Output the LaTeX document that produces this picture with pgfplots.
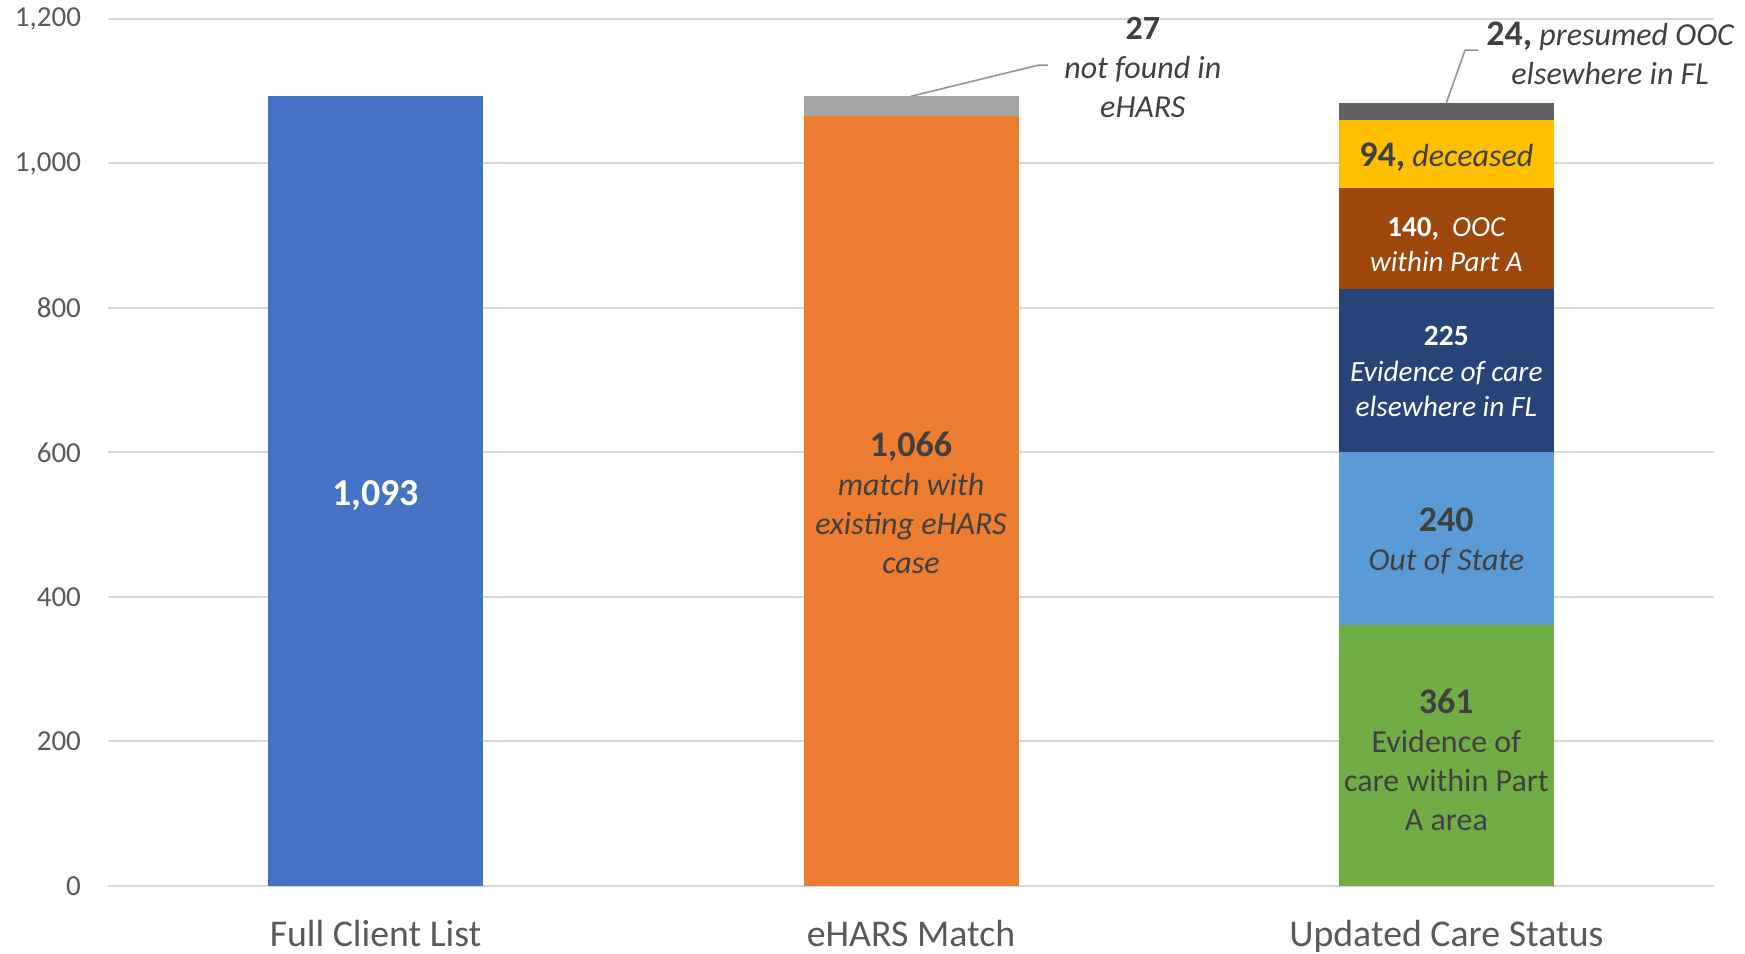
\documentclass[border=0pt]{standalone}
\usepackage{pgfplots}
\pgfplotsset{compat=1.18}
\usepackage{fontspec}
\setmainfont{Carlito}
\definecolor{cBlue}{HTML}{4472C4}
\definecolor{cOrange}{HTML}{ED7D31}
\definecolor{cGray}{HTML}{A5A5A5}
\definecolor{cGreen}{HTML}{70AD47}
\definecolor{cLBlue}{HTML}{5B9BD5}
\definecolor{cDBlue}{HTML}{264478}
\definecolor{cBrown}{HTML}{9E480E}
\definecolor{cGold}{HTML}{FFC000}
\definecolor{cDGray}{HTML}{636363}
\definecolor{txt}{HTML}{404040}
\definecolor{tick}{HTML}{595959}
\definecolor{grid}{HTML}{D9D9D9}
\begin{document}
\begin{tikzpicture}
\begin{axis}[
  at={(0,0)}, anchor=south west,
  scale only axis,
  width=803pt, height=433.5pt,
  ybar stacked, bar width=107.5pt,
  xmin=-0.5, xmax=2.5,
  ymin=0, ymax=1200,
  ytick={0,200,...,1200},
  xtick={0,1,2},
  xticklabels={Full Client List, eHARS Match, Updated Care Status},
  xticklabel style={font=\fontsize{18.9}{21}\selectfont, text=tick, yshift=-13.5pt},
  yticklabel style={font=\fontsize{14.5}{16}\selectfont, text=tick, xshift=-10pt},
  /pgf/number format/assume math mode=true,
  /pgf/number format/1000 sep={,},
  ymajorgrids, grid style={draw=grid, line width=1pt},
  axis line style={draw=none},
  major tick length=0pt,
  clip=false,
]
\addplot[fill=cBlue, draw=none] coordinates {(0,1093) (1,0) (2,0)};
\addplot[fill=cOrange, draw=none] coordinates {(0,0) (1,1066) (2,0)};
\addplot[fill=cGray, draw=none] coordinates {(0,0) (1,27) (2,0)};
\addplot[fill=cGreen, draw=none] coordinates {(0,0) (1,0) (2,361)};
\addplot[fill=cLBlue, draw=none] coordinates {(0,0) (1,0) (2,240)};
\addplot[fill=cDBlue, draw=none] coordinates {(0,0) (1,0) (2,225)};
\addplot[fill=cBrown, draw=none] coordinates {(0,0) (1,0) (2,140)};
\addplot[fill=cGold, draw=none] coordinates {(0,0) (1,0) (2,94)};
\addplot[fill=cDGray, draw=none] coordinates {(0,0) (1,0) (2,24)};

\coordinate (a1) at (axis cs:1,1093);
\coordinate (a2) at (axis cs:1.237,1136);
\coordinate (a3) at (axis cs:1.256,1136);
\coordinate (b1) at (axis cs:2,1084);
\coordinate (b2) at (axis cs:2.035,1157);
\coordinate (b3) at (axis cs:2.06,1157);
\coordinate (L1093) at (axis cs:0,541);
\coordinate (L1066) at (axis cs:1,530);
\coordinate (L27) at (axis cs:1.433,1133);
\coordinate (L24) at (axis cs:2.306,1153);
\coordinate (L94) at (axis cs:2,1009);
\coordinate (L140) at (axis cs:2,888);
\coordinate (L225) at (axis cs:2,712);
\coordinate (L240) at (axis cs:2,477);
\coordinate (L361) at (axis cs:2,175);
\end{axis}
\draw[cGray!90!black, line width=0.8pt] (a1) -- (a2) -- (a3);
\draw[cGray!90!black, line width=0.8pt] (b1) -- (b2) -- (b3);
\node[text=white, font=\bfseries\fontsize{19}{22}\selectfont] at (L1093) {1,093};
\node[text=txt, align=center, font=\fontsize{16}{19.5}\selectfont] at (L1066)
  {{\bfseries\fontsize{18}{19.5}\selectfont 1,066}\\\itshape match with\\\itshape existing eHARS\\\itshape case};
\node[text=txt, align=center, font=\fontsize{16}{19.5}\selectfont] at (L27)
  {{\bfseries\fontsize{17}{19.5}\selectfont 27}\\\itshape not found in\\\itshape eHARS};
\node[text=txt, align=center, font=\fontsize{16}{19.5}\selectfont] at (L24)
  {{\bfseries\fontsize{18}{19.5}\selectfont 24,} \itshape presumed OOC\\\itshape elsewhere in FL};
\node[text=txt, font=\fontsize{16}{19.5}\selectfont] at (L94)
  {{\bfseries\fontsize{18}{19.5}\selectfont 94,} \itshape deceased};
\node[text=white, align=center, font=\fontsize{14.5}{17.5}\selectfont] at (L140)
  {{\bfseries 140,} \itshape\ OOC\\\itshape within Part A};
\node[text=white, align=center, font=\fontsize{14.7}{17.8}\selectfont] at (L225)
  {{\bfseries 225}\\\itshape Evidence of care\\\itshape elsewhere in FL};
\node[text=txt, align=center, font=\fontsize{16}{19.5}\selectfont] at (L240)
  {{\bfseries\fontsize{18}{19.5}\selectfont 240}\\\itshape Out of State};
\node[text=txt, align=center, font=\fontsize{16}{19.5}\selectfont] at (L361)
  {{\bfseries\fontsize{18}{19.5}\selectfont 361}\\Evidence of\\care within Part\\A area};
\pgfresetboundingbox
\useasboundingbox (-54pt,-33.5pt) rectangle (818.5pt,443pt);
\end{tikzpicture}
\end{document}
